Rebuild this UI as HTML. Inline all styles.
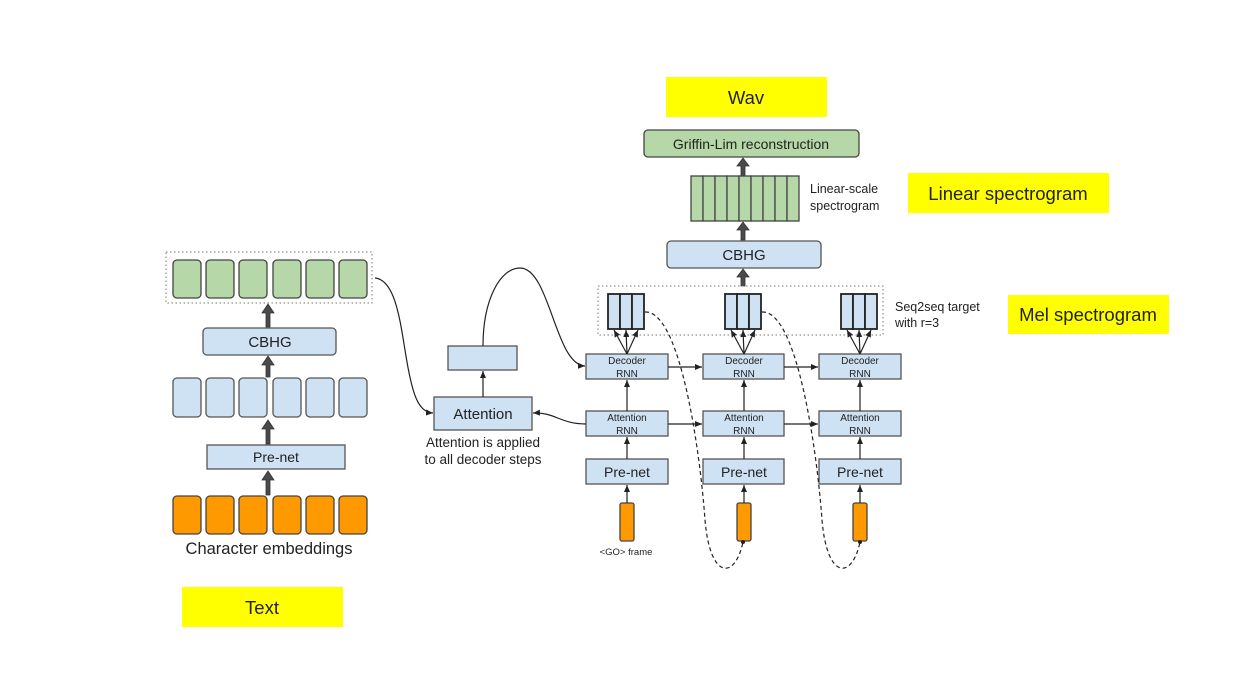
<!DOCTYPE html>
<html><head><meta charset="utf-8"><style>
html,body{margin:0;padding:0;background:#fff;}
svg{display:block;}
text{font-family:"Liberation Sans",sans-serif;fill:#222;}
.b{fill:#cfe2f3;stroke:#555;stroke-width:1.3;}
.bm{fill:#cfe2f3;stroke:#222;stroke-width:1.8;}
.g{fill:#b6d7a8;stroke:#444;stroke-width:1.3;}
.o{fill:#ff9900;stroke:#444;stroke-width:1.3;}
.y{fill:#ffff00;}
.ln{fill:none;stroke:#222;stroke-width:1.2;}
.ds{fill:none;stroke:#222;stroke-width:1.2;stroke-dasharray:4,3;}
.dot{fill:none;stroke:#777;stroke-width:1;stroke-dasharray:1.5,2.5;}
.ta{fill:#4a4a4a;stroke:#333;stroke-width:0.8;}
</style></head><body>
<svg width="1257" height="700" viewBox="0 0 1257 700" xmlns="http://www.w3.org/2000/svg">
<defs>
<marker id="ah" markerWidth="8" markerHeight="8" refX="7" refY="4" orient="auto" markerUnits="userSpaceOnUse"><path d="M0,1 L7,4 L0,7 Z" fill="#222"/></marker>
</defs>
<rect class="y" x="666" y="77" width="161" height="40"/>
<text x="746" y="104" font-size="18.5" text-anchor="middle" fill="#000">Wav</text>
<rect class="y" x="908" y="173" width="201" height="40"/>
<text x="1008" y="200" font-size="18.5" text-anchor="middle" fill="#000">Linear spectrogram</text>
<rect class="y" x="1008" y="295" width="161" height="39"/>
<text x="1088" y="321" font-size="18.5" text-anchor="middle" fill="#000">Mel spectrogram</text>
<rect class="y" x="182" y="587" width="161" height="40"/>
<text x="262" y="614" font-size="18.5" text-anchor="middle" fill="#000">Text</text>

<g class="ta">
<path d="M741,176 v-10 h-4 l6,-8 l6,8 h-4 v10 z"/>
<path d="M741,240 v-10 h-4 l6,-8 l6,8 h-4 v10 z"/>
<path d="M741,286 v-9 h-4 l6,-8 l6,8 h-4 v9 z"/>
<path d="M266,327 v-14 h-4 l6,-9 l6,9 h-4 v14 z"/>
<path d="M266,377 v-12 h-4 l6,-9 l6,9 h-4 v12 z"/>
<path d="M266,444 v-15 h-4 l6,-9 l6,9 h-4 v15 z"/>
<path d="M266,495 v-15 h-4 l6,-9 l6,9 h-4 v15 z"/>
</g>

<rect class="g" x="644" y="130" width="215" height="27" rx="4"/>
<text x="751" y="149" font-size="14" text-anchor="middle">Griffin-Lim reconstruction</text>
<g class="g">
<rect x="691" y="176" width="12" height="45"/><rect x="703" y="176" width="12" height="45"/><rect x="715" y="176" width="12" height="45"/>
<rect x="727" y="176" width="12" height="45"/><rect x="739" y="176" width="12" height="45"/><rect x="751" y="176" width="12" height="45"/>
<rect x="763" y="176" width="12" height="45"/><rect x="775" y="176" width="12" height="45"/><rect x="787" y="176" width="12" height="45"/>
</g>
<text x="810" y="193" font-size="12.5">Linear-scale</text>
<text x="810" y="210" font-size="12.5">spectrogram</text>
<rect class="b" x="667" y="241" width="154" height="27" rx="4"/>
<text x="744" y="260" font-size="15" text-anchor="middle">CBHG</text>

<rect class="dot" x="598" y="286" width="285" height="49"/>
<g class="bm">
<rect x="608" y="294" width="12" height="35"/><rect x="620" y="294" width="12" height="35"/><rect x="632" y="294" width="12" height="35"/>
<rect x="725" y="294" width="12" height="35"/><rect x="737" y="294" width="12" height="35"/><rect x="749" y="294" width="12" height="35"/>
<rect x="841" y="294" width="12" height="35"/><rect x="853" y="294" width="12" height="35"/><rect x="865" y="294" width="12" height="35"/>
</g>
<text x="895" y="311" font-size="12.5">Seq2seq target</text>
<text x="895" y="327" font-size="12.5">with r=3</text>

<rect class="b" x="586" y="354" width="82" height="25"/>
<text x="627" y="364" font-size="10" text-anchor="middle">Decoder</text><text x="627" y="377" font-size="10" text-anchor="middle">RNN</text>
<rect class="b" x="586" y="411" width="82" height="25"/>
<text x="627" y="421" font-size="10" text-anchor="middle">Attention</text><text x="627" y="434" font-size="10" text-anchor="middle">RNN</text>
<rect class="b" x="586" y="459" width="82" height="25"/>
<text x="627" y="477" font-size="14" text-anchor="middle">Pre-net</text>
<rect class="o" x="620" y="503" width="14" height="38" rx="2"/>
<text x="626" y="555" font-size="9.5" text-anchor="middle">&lt;GO&gt; frame</text>
<rect class="b" x="703" y="354" width="81" height="25"/>
<text x="744" y="364" font-size="10" text-anchor="middle">Decoder</text><text x="744" y="377" font-size="10" text-anchor="middle">RNN</text>
<rect class="b" x="703" y="411" width="81" height="25"/>
<text x="744" y="421" font-size="10" text-anchor="middle">Attention</text><text x="744" y="434" font-size="10" text-anchor="middle">RNN</text>
<rect class="b" x="703" y="459" width="81" height="25"/>
<text x="744" y="477" font-size="14" text-anchor="middle">Pre-net</text>
<rect class="o" x="737" y="503" width="14" height="38" rx="2"/>
<rect class="b" x="819" y="354" width="82" height="25"/>
<text x="860" y="364" font-size="10" text-anchor="middle">Decoder</text><text x="860" y="377" font-size="10" text-anchor="middle">RNN</text>
<rect class="b" x="819" y="411" width="82" height="25"/>
<text x="860" y="421" font-size="10" text-anchor="middle">Attention</text><text x="860" y="434" font-size="10" text-anchor="middle">RNN</text>
<rect class="b" x="819" y="459" width="82" height="25"/>
<text x="860" y="477" font-size="14" text-anchor="middle">Pre-net</text>
<rect class="o" x="853" y="503" width="14" height="38" rx="2"/>

<g class="ln" marker-end="url(#ah)">
<line x1="627" y1="503" x2="627" y2="485"/><line x1="627" y1="459" x2="627" y2="437"/><line x1="627" y1="411" x2="627" y2="380"/>
<line x1="744" y1="503" x2="744" y2="485"/><line x1="744" y1="459" x2="744" y2="437"/><line x1="744" y1="411" x2="744" y2="380"/>
<line x1="860" y1="503" x2="860" y2="485"/><line x1="860" y1="459" x2="860" y2="437"/><line x1="860" y1="411" x2="860" y2="380"/>
<line x1="668" y1="367" x2="702" y2="367"/><line x1="784" y1="367" x2="818" y2="367"/>
<line x1="668" y1="424" x2="702" y2="424"/><line x1="784" y1="424" x2="818" y2="424"/>
<line x1="627" y1="354" x2="614" y2="330"/><line x1="627" y1="354" x2="626" y2="330"/><line x1="627" y1="354" x2="638" y2="330"/>
<line x1="744" y1="354" x2="731" y2="330"/><line x1="744" y1="354" x2="743" y2="330"/><line x1="744" y1="354" x2="755" y2="330"/>
<line x1="860" y1="354" x2="847" y2="330"/><line x1="860" y1="354" x2="859" y2="330"/><line x1="860" y1="354" x2="871" y2="330"/>
</g>

<path class="ds" d="M645,312 C680,310 700,450 705,520 C710,580 735,580 743,542"/>
<path class="ds" d="M762,312 C797,310 817,450 822,520 C827,580 852,580 860,542"/>
<circle cx="743" cy="542" r="2" fill="#222"/><circle cx="860" cy="542" r="2" fill="#222"/>

<rect class="dot" x="166" y="252" width="206" height="51"/>
<g class="g">
<rect x="173" y="260" width="28" height="38" rx="4"/><rect x="206" y="260" width="28" height="38" rx="4"/><rect x="239" y="260" width="28" height="38" rx="4"/>
<rect x="273" y="260" width="28" height="38" rx="4"/><rect x="306" y="260" width="28" height="38" rx="4"/><rect x="339" y="260" width="28" height="38" rx="4"/>
</g>
<rect class="b" x="203" y="328" width="133" height="27" rx="4"/>
<text x="270" y="347" font-size="15" text-anchor="middle">CBHG</text>
<g class="b">
<rect x="173" y="378" width="28" height="39" rx="4"/><rect x="206" y="378" width="28" height="39" rx="4"/><rect x="239" y="378" width="28" height="39" rx="4"/>
<rect x="273" y="378" width="28" height="39" rx="4"/><rect x="306" y="378" width="28" height="39" rx="4"/><rect x="339" y="378" width="28" height="39" rx="4"/>
</g>
<rect class="b" x="207" y="445" width="138" height="24"/>
<text x="276" y="462" font-size="14" text-anchor="middle">Pre-net</text>
<g class="o">
<rect x="173" y="496" width="28" height="38" rx="4"/><rect x="206" y="496" width="28" height="38" rx="4"/><rect x="239" y="496" width="28" height="38" rx="4"/>
<rect x="273" y="496" width="28" height="38" rx="4"/><rect x="306" y="496" width="28" height="38" rx="4"/><rect x="339" y="496" width="28" height="38" rx="4"/>
</g>
<text x="269" y="554" font-size="16.5" text-anchor="middle">Character embeddings</text>

<rect class="b" x="434" y="397" width="98" height="33"/>
<text x="483" y="419" font-size="15" text-anchor="middle">Attention</text>
<rect class="b" x="448" y="346" width="69" height="24"/>
<text x="483" y="447" font-size="13.5" text-anchor="middle">Attention is applied</text>
<text x="483" y="464" font-size="13.5" text-anchor="middle">to all decoder steps</text>
<g class="ln" marker-end="url(#ah)">
<path d="M375,278 C395,280 400,320 405,350 C412,395 418,412 433,413"/>
<line x1="483" y1="397" x2="483" y2="371"/>
<path d="M483,346 C483,300 500,268 520,268 C550,268 555,365 585,366"/>
<path d="M586,424 C560,424 555,412 533,413"/>
</g>
</svg>
</body></html>
